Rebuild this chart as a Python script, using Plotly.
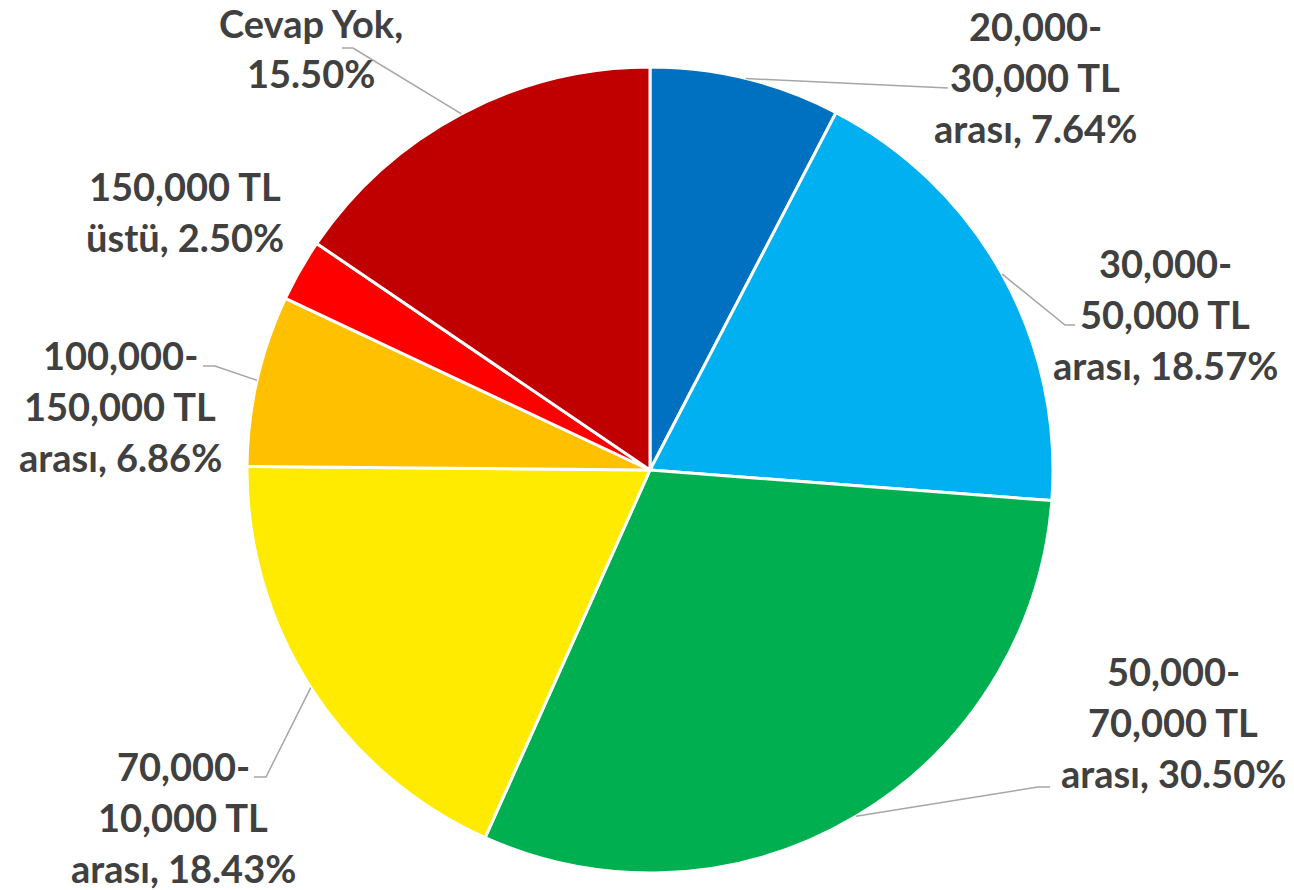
import math
import plotly.graph_objects as go

# ---- data ----
categories = [
    "20,000-<br>30,000 TL<br>arası",
    "30,000-<br>50,000 TL<br>arası",
    "50,000-<br>70,000 TL<br>arası",
    "70,000-<br>10,000 TL<br>arası",
    "100,000-<br>150,000 TL<br>arası",
    "150,000 TL<br>üstü",
    "Cevap Yok",
]
values = [7.64, 18.57, 30.50, 18.43, 6.86, 2.50, 15.50]
label_lines = [
    ["20,000-", "30,000 TL", "arası, 7.64%"],
    ["30,000-", "50,000 TL", "arası, 18.57%"],
    ["50,000-", "70,000 TL", "arası, 30.50%"],
    ["70,000-", "10,000 TL", "arası, 18.43%"],
    ["100,000-", "150,000 TL", "arası, 6.86%"],
    ["150,000 TL", "üstü, 2.50%"],
    ["Cevap Yok,", "15.50%"],
]

# ---- styles / layout ----
colors = ["#0070C0", "#00B0F0", "#00B050", "#FFEB00", "#FFC000", "#FF0000", "#C00000"]
W, H = 1294, 890
CX, CY, R = 650, 470, 403
FONT = "Lato, 'Open Sans', sans-serif"
TEXT_COLOR = "#404040"
LINE_COLOR = "#A6A6A6"
LINE_GAP = 51
# label block centers (pixels) and leader-line elbow points (pixels)
label_centers = [(1035, 77), (1165, 314), (1173, 722), (183, 817), (120, 406), (185, 211), (311, 48)]
elbows = [[(948, 88)],
          [(1065, 325), (1075, 325)],
          [(1038, 787), (1050, 787)],
          [(266, 777), (254, 777)],
          [(215, 366), (203, 366)],
          None,
          [(353, 48), (342, 48)]]


def px(x):
    return x / W


def py(y):
    return 1 - y / H


fig = go.Figure(go.Pie(
    labels=categories,
    values=values,
    sort=False,
    direction="clockwise",
    rotation=0,
    textinfo="none",
    hoverinfo="label+percent",
    marker=dict(colors=colors, line=dict(color="white", width=3)),
    domain=dict(x=[px(CX - R), px(CX + R)], y=[py(CY + R), py(CY - R)]),
    showlegend=False,
))

annotations = []
shapes = []
total = sum(values)
cum = 0.0
for i, v in enumerate(values):
    mid = (cum + v / 2) / total * 2 * math.pi
    cum += v
    sx = CX + R * math.sin(mid)
    sy = CY - R * math.cos(mid)
    lines = label_lines[i]
    cx, cy = label_centers[i]
    n = len(lines)
    for j, t in enumerate(lines):
        ly = cy + (j - (n - 1) / 2) * LINE_GAP
        annotations.append(dict(
            x=px(cx), y=py(ly), xref="paper", yref="paper",
            text=t, showarrow=False, xanchor="center", yanchor="middle",
            borderpad=0,
            font=dict(family=FONT, size=38, color=TEXT_COLOR, weight="bold"),
        ))
    if elbows[i]:
        pts = [(sx, sy)] + elbows[i]
        path = "M " + " L ".join(f"{px(x):.5f},{py(y):.5f}" for x, y in pts)
        shapes.append(dict(type="path", xref="paper", yref="paper", path=path,
                           line=dict(color=LINE_COLOR, width=1.5)))

fig.update_layout(
    width=W, height=H,
    margin=dict(l=0, r=0, t=0, b=0),
    paper_bgcolor="white",
    plot_bgcolor="white",
    annotations=annotations,
    shapes=shapes,
)

fig.write_html("out.html", config={"displayModeBar": False},
               post_script="document.body.style.margin='0';document.body.style.overflow='hidden';")
